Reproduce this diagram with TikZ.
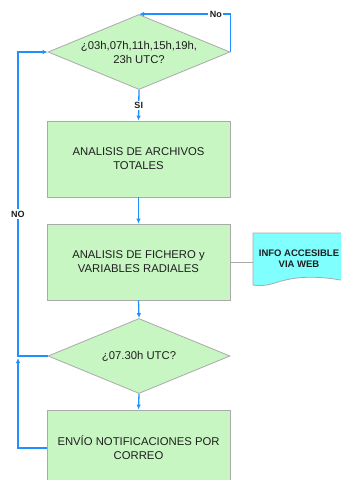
\documentclass[tikz,border=0pt]{standalone}
\usepackage{fontspec}
\setmainfont{Liberation Sans}
\usetikzlibrary{shapes.geometric,arrows.meta}
\definecolor{boxgreen}{RGB}{199,246,194}
\definecolor{boxborder}{RGB}{170,170,170}
\definecolor{flowblue}{RGB}{30,144,255}
\definecolor{infocyan}{RGB}{128,255,255}
\definecolor{txtc}{RGB}{30,30,30}
\tikzset{
  procbox/.style={draw=boxborder, line width=0.8pt, fill=boxgreen, minimum width=183pt, minimum height=76pt, inner sep=0pt},
  dia/.style={diamond, draw=boxborder, line width=0.8pt, fill=boxgreen, minimum width=182pt, minimum height=75pt, inner sep=0pt},
  txt/.style={align=center, font=\fontsize{11.3}{14}\selectfont, text=txtc, inner sep=0pt},
  arr/.style={draw=flowblue, line width=1.3pt, -{Latex[length=5pt,width=4.5pt]}},
  lbl/.style={fill=white, inner sep=1.5pt, font=\bfseries\fontsize{9}{11}\selectfont, text=txtc},
  infotxt/.style={align=center, font=\bfseries\fontsize{9.5}{11.5}\selectfont, text=txtc, inner sep=0pt},
}
\begin{document}
\begin{tikzpicture}[x=1pt,y=-1pt]
\useasboundingbox (0,0) rectangle (341,480);
\clip (0,0) rectangle (341,480);
\fill[white] (0,0) rectangle (341,480);
% nodes
\node[dia] (d1) at (139,52) {};
\node[txt] (t1) at (d1.center) {¿03h,07h,11h,15h,19h,\\23h UTC?};
\node[procbox] (b1) at (138.5,159) {};
\node[txt] (t2) at (b1.center) {ANALISIS DE ARCHIVOS\\TOTALES};
\node[procbox] (b2) at (138.5,262) {};
\node[txt] (t3) at (b2.center) {ANALISIS DE FICHERO y\\VARIABLES RADIALES};
\node[dia] (d2) at (139,356) {};
\node[txt] (t4) at (d2.center) {¿07.30h UTC?};
\node[procbox] (b4) at (138.5,448) {};
\node[txt] (t5) at (b4.center) {ENVÍO NOTIFICACIONES POR\\CORREO};
% info document shape
\coordinate (iw) at (253,262);
\path[draw=boxborder, line width=0.8pt, fill=infocyan]
  (253,233) -- (346,233) -- (346,281)
  .. controls (310,274) and (290,278) .. (275,283)
  .. controls (265,286) and (258,286) .. (253,285) -- cycle;
\node[infotxt] (info) at (299,258.5) {INFO ACCESIBLE\\VIA WEB};
% coordinates for loops
\coordinate (c1) at (18,356);
\coordinate (c2) at (18,52);
\coordinate (c3) at (18,448);
\coordinate (lp) at (18,358);
% connectors
\draw[arr] (d1.south) -- node[lbl]{SI} (b1.north);
\draw[arr] (b1.south) -- (b2.north);
\draw[arr] (b2.south) -- (d2.north);
\draw[arr] (d2.south) -- (b4.north);
\draw[arr] (d1.east) |- node[lbl, pos=0.58]{No} (d1.north);
\draw[arr] (b4.west) -- (c3) -- (lp);
\draw[arr] (d2.west) -- (c1) -- node[lbl, pos=0.467]{NO} (c2) -- (d1.west);
\draw[draw=boxborder, line width=0.8pt] (b2.east) -- (iw);
\end{tikzpicture}
\end{document}
